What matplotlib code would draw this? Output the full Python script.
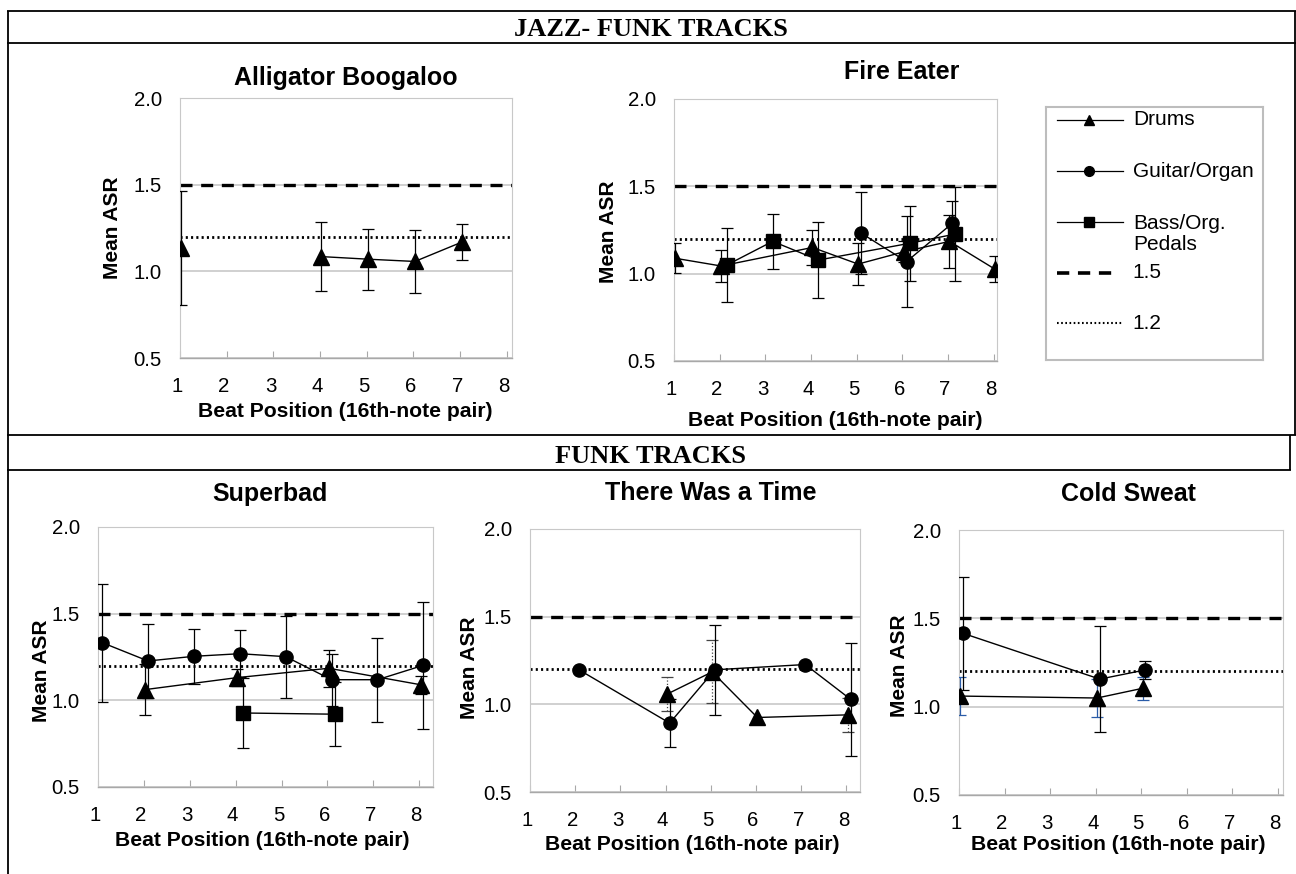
import numpy as np
import matplotlib
matplotlib.use("Agg")
import matplotlib.pyplot as plt
from matplotlib.lines import Line2D
from matplotlib.transforms import ScaledTranslation

plt.rcParams['font.family'] = ['Liberation Sans', 'DejaVu Sans']

nan = np.nan

# ---------------- data ----------------
BEATS = [1, 2, 3, 4, 5, 6, 7, 8]
Y_TICKS = [0.5, 1.0, 1.5, 2.0]
Y_TICK_LABELS = ['0.5', '1.0', '1.5', '2.0']
SERIES_NAMES = ['Drums', 'Guitar/Organ', 'Bass/Org.\nPedals']
REF_VALUES = [1.5, 1.2]
REF_LABELS = ['1.5', '1.2']
SECTION_TITLES = ['JAZZ- FUNK TRACKS', 'FUNK TRACKS']
TRACKS = ['Alligator Boogaloo', 'Fire Eater', 'Superbad', 'There Was a Time', 'Cold Sweat']
X_LABEL = 'Beat Position (16th-note pair)'
Y_LABEL = 'Mean ASR'

# Alligator Boogaloo
AB_DRUMS = [1.135, nan, nan, 1.085, 1.070, 1.057, 1.168, nan]
AB_DRUMS_ERR = [0.330, nan, nan, 0.197, 0.175, 0.183, 0.105, nan]

# Fire Eater
FE_DRUMS = [1.088, 1.044, nan, 1.150, 1.055, 1.125, 1.185, 1.025]
FE_DRUMS_ERR = [0.086, 0.090, nan, 0.100, 0.121, 0.060, 0.150, 0.075]
FE_GUITAR = [nan, nan, nan, nan, 1.233, 1.069, 1.288, nan]
FE_GUITAR_ERR = [nan, nan, nan, nan, 0.235, 0.262, 0.130, nan]
FE_BASS = [nan, 1.050, 1.185, 1.078, nan, 1.174, 1.227, nan]
FE_BASS_ERR = [nan, 0.210, 0.157, 0.215, nan, 0.215, 0.270, nan]

# Superbad
SB_DRUMS = [nan, 1.062, nan, 1.131, nan, 1.185, nan, 1.090]
SB_DRUMS_ERR = [nan, 0.147, nan, 0.050, nan, 0.106, nan, 0.053]
SB_GUITAR = [1.333, 1.227, 1.254, 1.269, 1.252, 1.119, 1.119, 1.202]
SB_GUITAR_ERR = [0.340, 0.215, 0.157, 0.135, 0.236, 0.150, 0.243, 0.367]
SB_BASS = [nan, nan, nan, 0.927, nan, 0.920, nan, nan]
SB_BASS_ERR = [nan, nan, nan, 0.200, nan, 0.183, nan, nan]

# There Was a Time
TW_DRUMS = [nan, nan, nan, 1.058, 1.185, 0.925, nan, 0.940]
TW_DRUMS_ERR = [nan, nan, nan, 0.096, 0.180, nan, nan, 0.096]
TW_GUITAR = [nan, 1.196, nan, 0.893, 1.197, nan, 1.227, 1.029]
TW_GUITAR_ERR = [nan, nan, nan, 0.139, 0.255, nan, nan, 0.323]

# Cold Sweat
CS_DRUMS = [1.060, nan, nan, 1.049, 1.104, nan, nan, nan]
CS_DRUMS_ERR = [0.108, nan, nan, 0.105, 0.065, nan, nan, nan]
CS_GUITAR = [1.415, nan, nan, 1.156, 1.208, nan, nan, nan]
CS_GUITAR_ERR = [0.320, nan, nan, 0.300, 0.050, nan, nan, nan]

# ---------------- styles ----------------
W, H = 1296, 874
fig = plt.figure(figsize=(W / 100, H / 100), dpi=100)

STYLE = {
    'Drums': dict(marker='^', ms=11, dx=0.03),
    'Guitar/Organ': dict(marker='o', ms=9.5, dx=0.09),
    'Bass/Org.\nPedals': dict(marker='s', ms=9.5, dx=0.16),
}
ERR_DEFAULT = dict(ecolor='black', ls='-')


def fx(x):
    return x / W


def fy(y):
    return 1 - y / H


def hline(x0, x1, y, lw=1.3):
    fig.add_artist(Line2D([fx(x0), fx(x1)], [fy(y), fy(y)], transform=fig.transFigure,
                          color='black', lw=lw, solid_capstyle='butt'))


def vline(x, y0, y1, lw=1.3):
    fig.add_artist(Line2D([fx(x), fx(x)], [fy(y0), fy(y1)], transform=fig.transFigure,
                          color='black', lw=lw, solid_capstyle='butt'))


def panel(rect, title, title_pos, ylab_pos, xlab_pos, xmax, series, connect=True):
    x0, y0, x1, y1 = rect
    ax = fig.add_axes([fx(x0), fy(y1), (x1 - x0) / W, (y1 - y0) / H])
    ax.set_xlim(1, xmax)
    ax.set_ylim(0.5, 2.0)
    ax.set_yticks(Y_TICKS)
    ax.set_yticklabels(Y_TICK_LABELS)
    ax.set_xticks(BEATS)
    ax.set_xticklabels([str(b) for b in BEATS])
    ax.yaxis.grid(True, color='#c4c4c4', lw=1.1)
    ax.set_axisbelow(True)
    for s in ['top', 'right', 'left']:
        ax.spines[s].set_color('#c8c8c8')
        ax.spines[s].set_linewidth(0.8)
    ax.spines['bottom'].set_color('#a8a8a8')
    ax.spines['bottom'].set_linewidth(1.0)
    ax.tick_params(axis='y', length=0, pad=13, labelsize=14.7)
    ax.tick_params(axis='x', direction='in', length=5, width=0.8, color='#a8a8a8',
                   pad=13.5, labelsize=14.7)
    off = ScaledTranslation(-3 / 100, 0, fig.dpi_scale_trans)
    for lab in ax.get_xticklabels():
        lab.set_transform(lab.get_transform() + off)

    ax.axhline(REF_VALUES[0], color='black', lw=2.4, dashes=(3.6, 2.6), zorder=2)
    ax.axhline(REF_VALUES[1], color='black', lw=2.0, dashes=(0.75, 1.15), zorder=2)

    bx = np.array(BEATS, dtype=float)
    for name, means, errs, err_style in series:
        st = STYLE[name]
        x = bx + st['dx']
        y = np.array(means, dtype=float)
        e = np.array(errs, dtype=float)
        m = ~np.isnan(y)
        if connect:
            ax.plot(x[m], y[m], color='black', lw=1.0, zorder=3)
        else:
            ax.plot(x, y, color='black', lw=1.0, zorder=3)
        em = m & ~np.isnan(e)
        if em.any():
            eb = ax.errorbar(x[em], y[em], yerr=e[em], fmt='none', ecolor=err_style['ecolor'],
                             elinewidth=0.9, capsize=4.3, capthick=0.9, zorder=4)
            if err_style['ls'] != '-':
                for lc in eb[2]:
                    lc.set_linestyle(err_style['ls'])
        ax.plot(x[m], y[m], ls='none', marker=st['marker'], ms=st['ms'],
                color='black', zorder=5)

    fig.text(fx(title_pos[0]), fy(title_pos[1]), title, ha='center', va='baseline',
             fontsize=18, fontweight='bold')
    fig.text(fx(ylab_pos[0]), fy(ylab_pos[1]), Y_LABEL, ha='center', va='center',
             rotation=90, fontsize=15, fontweight='bold')
    fig.text(fx(xlab_pos[0]), fy(xlab_pos[1]), X_LABEL, ha='center', va='baseline',
             fontsize=15.2, fontweight='bold')
    return ax


# ---------------- frame and section headings ----------------
vline(7.5, 11, 874)
vline(1295, 11, 435)
vline(1290, 435, 469.5)
hline(7, 1295.5, 11)
hline(7, 1295.5, 42.7)
hline(7, 1295.5, 435)
hline(7, 1290.5, 469.5)
fig.text(fx(651), fy(35.5), SECTION_TITLES[0], ha='center', va='baseline',
         family=['Liberation Serif', 'DejaVu Serif'], fontweight='bold', fontsize=19)
fig.text(fx(651), fy(463), SECTION_TITLES[1], ha='center', va='baseline',
         family=['Liberation Serif', 'DejaVu Serif'], fontweight='bold', fontsize=19)

BLUE = dict(ecolor='#2a5ca8', ls='-')
DOTTED = dict(ecolor='#444444', ls=':')

panel((180, 98, 512, 358), TRACKS[0], (346, 85), (113, 228), (345, 416.5), 8.11,
      [('Drums', AB_DRUMS, AB_DRUMS_ERR, ERR_DEFAULT)], connect=False)
panel((674, 99, 997, 361), TRACKS[1], (902, 79), (608, 231.5), (835.7, 426.5), 8.07,
      [('Drums', FE_DRUMS, FE_DRUMS_ERR, ERR_DEFAULT),
       ('Guitar/Organ', FE_GUITAR, FE_GUITAR_ERR, ERR_DEFAULT),
       ('Bass/Org.\nPedals', FE_BASS, FE_BASS_ERR, ERR_DEFAULT)])
panel((98, 527, 433, 787), TRACKS[2], (270, 500.7), (41.5, 671), (262, 846.5), 8.3,
      [('Drums', SB_DRUMS, SB_DRUMS_ERR, ERR_DEFAULT),
       ('Guitar/Organ', SB_GUITAR, SB_GUITAR_ERR, ERR_DEFAULT),
       ('Bass/Org.\nPedals', SB_BASS, SB_BASS_ERR, ERR_DEFAULT)])
panel((530, 529, 860, 792), TRACKS[3], (711, 500), (469.5, 668), (692, 850), 8.3,
      [('Drums', TW_DRUMS, TW_DRUMS_ERR, DOTTED),
       ('Guitar/Organ', TW_GUITAR, TW_GUITAR_ERR, ERR_DEFAULT)])
panel((959, 530, 1283, 795), TRACKS[4], (1128, 501), (899.5, 666), (1118, 850.5), 8.11,
      [('Drums', CS_DRUMS, CS_DRUMS_ERR, BLUE),
       ('Guitar/Organ', CS_GUITAR, CS_GUITAR_ERR, ERR_DEFAULT)])

# ---------------- legend (Excel-style box) ----------------
lx0, ly0, lx1, ly1 = 1046, 107, 1263, 360
lax = fig.add_axes([fx(lx0), fy(ly1), (lx1 - lx0) / W, (ly1 - ly0) / H])
lax.set_xlim(0, 1)
lax.set_ylim(0, 1)
lax.set_xticks([])
lax.set_yticks([])
for s in lax.spines.values():
    s.set_color('#bdbdbd')
    s.set_linewidth(1.5)
rows = [0.949, 0.747, 0.545, 0.344, 0.146]
mk_ms = {'Drums': 7, 'Guitar/Organ': 7, 'Bass/Org.\nPedals': 7.5}
for i, name in enumerate(SERIES_NAMES):
    st = STYLE[name]
    lax.plot([0.05, 0.355], [rows[i]] * 2, color='black', lw=0.9)
    lax.plot([0.2], [rows[i]], ls='none', marker=st['marker'], ms=mk_ms[name], color='black')
    if '\n' in name:
        lax.text(0.40, rows[i] - 0.047, name, ha='left', va='center', fontsize=15,
                 linespacing=1.15)
    else:
        lax.text(0.40, rows[i], name, ha='left', va='center', fontsize=15)
lax.plot([0.05, 0.31], [rows[3]] * 2, color='black', lw=2.6, dashes=(3.4, 2.4))
lax.text(0.40, rows[3], REF_LABELS[0], ha='left', va='center', fontsize=15)
lax.plot([0.05, 0.355], [rows[4]] * 2, color='black', lw=1.5, dashes=(0.8, 1.2))
lax.text(0.40, rows[4], REF_LABELS[1], ha='left', va='center', fontsize=15)

fig.savefig('out.png', dpi=100)
